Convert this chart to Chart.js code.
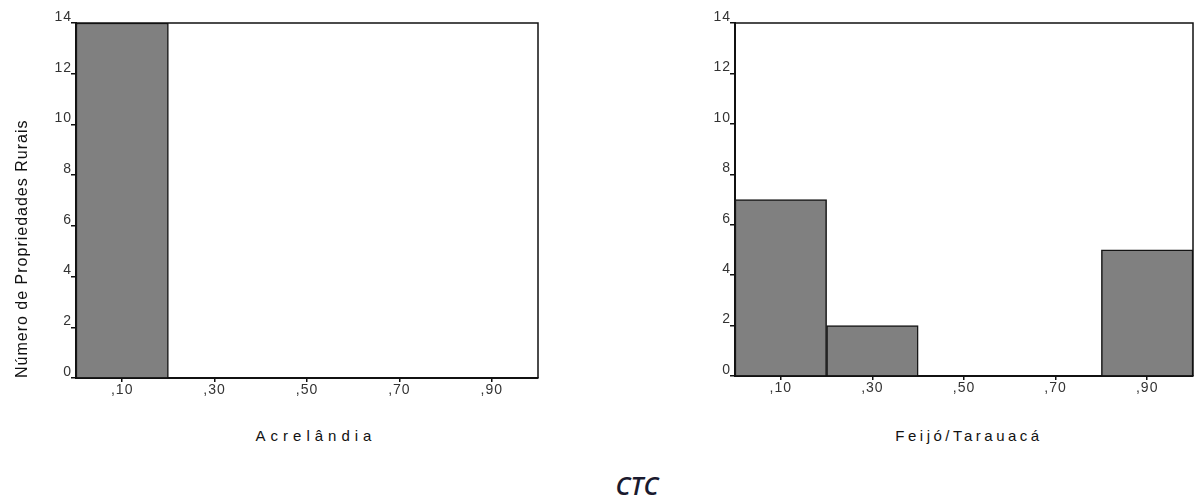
<!DOCTYPE html>
<html>
<head>
<meta charset="utf-8">
<script src="https://cdn.jsdelivr.net/npm/chart.js@4.4.1/dist/chart.umd.min.js"></script>
<style>
  body { margin: 0; background: #fff; width: 1199px; height: 502px; position: relative; overflow: hidden; }
  .box { position: absolute; top: 0; height: 400px; }
  .xtitle { position: absolute; top: 427px; font-family: "Liberation Sans", Arial, sans-serif; font-size: 15px; letter-spacing: 5px; color: #111; transform: translateX(-50%); white-space: nowrap; }
  #ctc { position: absolute; left: 637px; top: 468px; transform: translateX(-50%); font-family: "Open Sans", sans-serif; font-style: italic; font-weight: 600; font-size: 25px; color: #1a1a2e; }
</style>
</head>
<body>
<div class="box" style="left:0;width:548px"><canvas id="left"></canvas></div>
<div class="box" style="left:660px;width:539px"><canvas id="right"></canvas></div>
<div class="xtitle" style="left:316px">Acrelândia</div>
<div class="xtitle" style="left:969px;letter-spacing:3.5px">Feijó/Tarauacá</div>
<div id="ctc">CTC</div>
<script>
// CTC classes (bin centres)
const bins = [',10', ',30', ',50', ',70', ',90'];
const yTicks = [0, 2, 4, 6, 8, 10, 12, 14];
// number of rural properties per bin
const acrelandia = [14, 0, 0, 0, 0];
const feijoTarauaca = [7, 2, 0, 0, 5];

const frame = {
  id: 'frame',
  beforeDraw(chart) {
    chart.ctx.letterSpacing = '1px';
  },
  afterDraw(chart) {
    const {ctx, chartArea: a} = chart;
    ctx.save();
    ctx.strokeStyle = '#111';
    ctx.lineWidth = 1.5;
    ctx.beginPath();
    ctx.moveTo(a.left, a.top);
    ctx.lineTo(a.right, a.top);
    ctx.lineTo(a.right, a.bottom);
    ctx.stroke();
    ctx.restore();
  }
};

function makeChart(id, values, yWidth, padRight, xHeight, showTitle) {
  const ctx = document.getElementById(id).getContext('2d');
  return new Chart(ctx, {
    type: 'bar',
    data: {
      labels: bins,
      datasets: [{
        data: values,
        backgroundColor: '#808080',
        borderColor: '#151515',
        borderWidth: 1.5,
        categoryPercentage: 1,
        barPercentage: 1
      }]
    },
    options: {
      responsive: true,
      maintainAspectRatio: false,
      animation: false,
      layout: { padding: { top: 23, right: padRight, left: 0, bottom: 0 } },
      plugins: { legend: { display: false }, tooltip: { enabled: false } },
      scales: {
        x: {
          afterFit: s => { s.height = xHeight; },
          grid: { display: true, offset: false, drawOnChartArea: false, drawTicks: true, tickLength: 4, color: '#111', lineWidth: 1.5 },
          border: { display: true, color: '#111', width: 2 },
          ticks: { color: '#333', font: { family: 'Liberation Sans', size: 14 }, padding: 0 },
        },
        y: {
          min: 0, max: 14,
          afterFit: s => { s.width = yWidth; },
          afterBuildTicks: s => { s.ticks = yTicks.map(v => ({value: v})); },
          grid: { display: true, drawOnChartArea: false, drawTicks: true, tickLength: 5, color: '#111', lineWidth: 1.5 },
          border: { display: true, color: '#111', width: 2 },
          ticks: { color: '#333', font: { family: 'Liberation Sans', size: 14 }, padding: -1, labelOffset: -6 },
          title: {
            display: showTitle,
            text: 'Número de Propriedades Rurais',
            align: 'start',
            color: '#111',
            font: { family: 'Liberation Sans', size: 16 },
            padding: { top: 13, bottom: 0 }
          }
        }
      }
    },
    plugins: [frame]
  });
}

makeChart('left', acrelandia, 76, 10, 22, true);
makeChart('right', feijoTarauaca, 75, 6, 24, false);
</script>
</body>
</html>
